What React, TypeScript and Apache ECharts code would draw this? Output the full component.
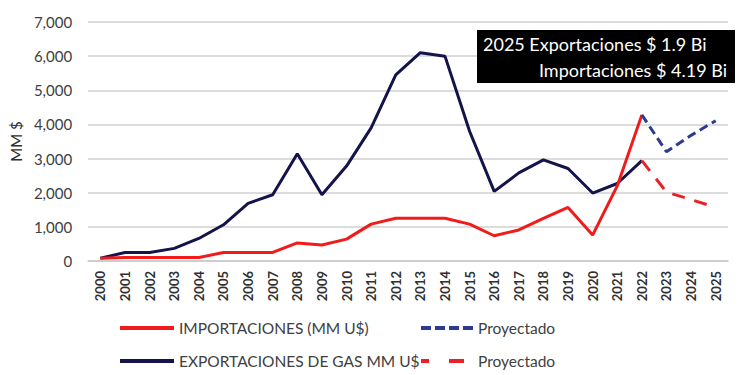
import React, { useEffect, useRef } from "react";
import * as echarts from "echarts";

const years = [
  "2000", "2001", "2002", "2003", "2004", "2005", "2006", "2007", "2008", "2009",
  "2010", "2011", "2012", "2013", "2014", "2015", "2016", "2017", "2018", "2019",
  "2020", "2021", "2022", "2023", "2024", "2025",
];

const importaciones = [
  80, 100, 100, 100, 100, 250, 250, 250, 530, 470,
  640, 1080, 1250, 1250, 1250, 1080, 740, 910, 1250, 1570,
  760, 2200, 4280, null, null, null,
];

const exportaciones = [
  80, 250, 250, 370, 660, 1060, 1690, 1940, 3140, 1940,
  2780, 3900, 5450, 6100, 6000, 3800, 2040, 2580, 2960, 2710,
  1990, 2270, 2940, null, null, null,
];

const proyectadoAzul = [
  null, null, null, null, null, null, null, null, null, null,
  null, null, null, null, null, null, null, null, null, null,
  null, null, 4280, 3200, 3680, 4110,
];

const proyectadoRojo = [
  null, null, null, null, null, null, null, null, null, null,
  null, null, null, null, null, null, null, null, null, null,
  null, null, 2940, 2020, 1800, 1570,
];

const yTicks = [0, 1000, 2000, 3000, 4000, 5000, 6000, 7000];

const RED = "#f21b1b";
const NAVY = "#14144a";
const BLUE_DASH = "#2b3a92";
const RED_DASH = "#ea2228";
const FONT = "Lato";

export default function App() {
  const ref = useRef<HTMLDivElement>(null);

  useEffect(() => {
    if (!ref.current) return;
    const chart = echarts.init(ref.current, null, { renderer: "svg" });
    const legendText = {
      fontFamily: FONT,
      fontSize: 15.5,
      color: "#404040",
    };
    const mkLegend = (
      name: string,
      left: number,
      top: number,
      width: number,
      dashed?: number[]
    ) => ({
      data: [name],
      left,
      top,
      itemWidth: width,
      itemHeight: 14,
      itemGap: 0,
      padding: 0,
      textStyle: legendText,
      selectedMode: false,
      itemStyle: { opacity: 0 },
      lineStyle: dashed ? { width: 4, type: dashed } : { width: 4 },
    });
    chart.setOption({
      animation: false,
      backgroundColor: "#ffffff",
      grid: { left: 88, right: 22, top: 22, bottom: 114 },
      xAxis: {
        type: "category",
        data: years,
        boundaryGap: true,
        axisLine: { lineStyle: { color: "#c8c8c8", width: 1.5 } },
        axisTick: { show: false },
        axisLabel: {
          rotate: 90,
          interval: 0,
          fontFamily: FONT,
          fontSize: 13,
          fontWeight: "bold",
          color: "#303030",
          margin: 10,
        },
      },
      yAxis: {
        type: "value",
        min: yTicks[0],
        max: yTicks[yTicks.length - 1],
        interval: 1000,
        name: "MM $",
        nameLocation: "middle",
        nameRotate: 90,
        nameGap: 62,
        nameTextStyle: { fontFamily: FONT, fontSize: 15, color: "#303030" },
        axisLine: { show: false },
        axisTick: { show: false },
        axisLabel: {
          fontFamily: FONT,
          fontSize: 15,
          color: "#404040",
          margin: 16,
          formatter: (v: number) => v.toLocaleString("en-US"),
        },
        splitLine: { lineStyle: { color: "#d0d0d0", width: 1.5 } },
      },
      legend: [
        mkLegend("IMPORTACIONES (MM U$)", 118, 320, 54),
        mkLegend("Proyectado", 419, 320, 52, [10, 4]),
        mkLegend("EXPORTACIONES DE GAS MM U$", 118, 353, 54),
        mkLegend("Proyectado ", 419, 353, 52, [8, 20, 15, 9]),
      ],
      series: [
        {
          name: "IMPORTACIONES (MM U$)",
          type: "line",
          data: importaciones,
          symbol: "none",
          lineStyle: { color: RED, width: 3 },
          itemStyle: { color: RED },
          z: 3,
        },
        {
          name: "EXPORTACIONES DE GAS MM U$",
          type: "line",
          data: exportaciones,
          symbol: "none",
          lineStyle: { color: NAVY, width: 3 },
          itemStyle: { color: NAVY },
          z: 2,
        },
        {
          name: "Proyectado",
          type: "line",
          data: proyectadoAzul,
          symbol: "none",
          lineStyle: { color: BLUE_DASH, width: 3, type: [9, 5] },
          itemStyle: { color: BLUE_DASH },
        },
        {
          name: "Proyectado ",
          type: "line",
          data: proyectadoRojo,
          symbol: "none",
          lineStyle: { color: RED_DASH, width: 3, type: [13, 10] },
          itemStyle: { color: RED_DASH },
        },
      ],
      graphic: [
        {
          type: "group",
          left: 477,
          top: 30,
          z: 100,
          children: [
            {
              type: "rect",
              z: 100,
              shape: { x: 0, y: 0, width: 258, height: 53 },
              style: { fill: "#000000" },
            },
            {
              type: "text",
              z: 101,
              x: 6,
              y: 14,
              style: {
                text: "2025 Exportaciones $ 1.9 Bi",
                fill: "#ffffff",
                font: `18px ${FONT}`,
                verticalAlign: "middle",
              },
            },
            {
              type: "text",
              z: 101,
              x: 250,
              y: 40,
              style: {
                text: "Importaciones $ 4.19 Bi",
                fill: "#ffffff",
                font: `18px ${FONT}`,
                align: "right",
                verticalAlign: "middle",
              },
            },
          ],
        },
      ],
    });
    return () => chart.dispose();
  }, []);

  return (
    <div
      ref={ref}
      style={{ position: "absolute", left: 0, top: 0, width: 750, height: 375 }}
    />
  );
}
